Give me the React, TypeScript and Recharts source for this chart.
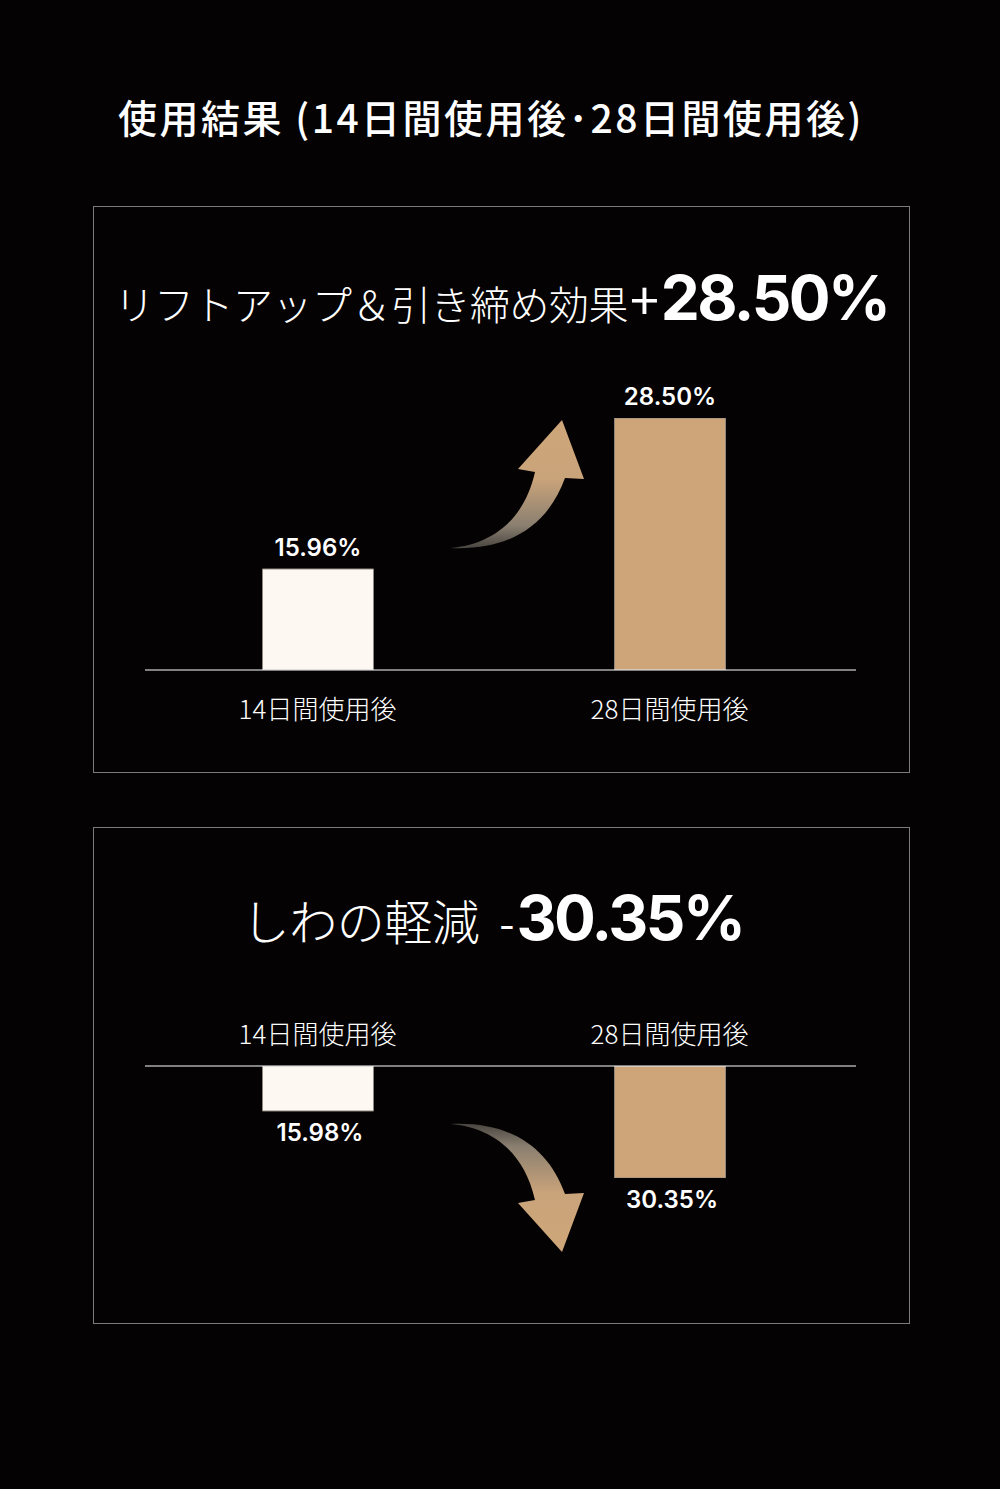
import React from 'react';
import { Bar, BarChart, Cell, LabelList, XAxis, YAxis } from 'recharts';

const categories = ['14日間使用後', '28日間使用後'];
const liftValues = [15.96, 28.5];
const wrinkleValues = [15.98, 30.35];
const liftLabels = ['15.96%', '28.50%'];
const wrinkleLabels = ['15.98%', '30.35%'];

// the bars in the original do not start at zero, so each chart keeps its own floor
const liftDomain = [7.57, 28.5];
const wrinkleDomain = [6.33, 30.35];

const BAR_COLORS = ['#fdf8f1', '#cda579'];
const BG = '#050203';
const JP = '"Noto Sans CJK JP", "Noto Sans", sans-serif';
const NUM = 'Inter, "Noto Sans", sans-serif';

const liftData = categories.map((name, i) => ({ name, value: liftValues[i], label: liftLabels[i] }));
const wrinkleData = categories.map((name, i) => ({ name, value: wrinkleValues[i], label: wrinkleLabels[i] }));

const tickStyle = { fontSize: 26, fill: '#ffffff', fontWeight: 300, fontFamily: JP };

// decorative curved arrow (up version); the down one is the same shape flipped
const ARROW_PATH =
  'M 450 548 C 480 546, 522 530, 535 472 L 518 469 L 562 420 L 584 479 L 565 478 C 548 525, 510 551, 450 548 Z';

// value label under a hanging bar (reversed axis can give a negative height)
function BelowLabel(props: any) {
  const { x, y, width, height, value } = props;
  const bottom = Math.max(y, y + height);
  return (
    <text
      x={x + width / 2 + 2}
      y={bottom + 30}
      textAnchor="middle"
      fill="#fff"
      fontSize={24}
      fontWeight={600}
      fontFamily={NUM}
    >
      {value}
    </text>
  );
}

function AboveLabel(props: any) {
  const { x, y, width, height, value } = props;
  const top = Math.min(y, y + height);
  return (
    <text
      x={x + width / 2}
      y={top - 13}
      textAnchor="middle"
      fill="#fff"
      fontSize={24}
      fontWeight={600}
      fontFamily={NUM}
    >
      {value}
    </text>
  );
}

function Box({ top, height }: { top: number; height: number }) {
  return (
    <div
      style={{
        position: 'absolute',
        left: 93,
        top,
        width: 815,
        height: height - 2,
        border: '1px solid #7b7b7b',
      }}
    />
  );
}

function Headline({
  top,
  light,
  sign,
  bold,
  lightSize,
  signSize,
  gap = 0,
  shift = 0,
}: {
  top: number;
  light: string;
  sign: string;
  bold: string;
  lightSize: number;
  signSize: number;
  gap?: number;
  shift?: number;
}) {
  return (
    <div
      style={{
        position: 'absolute',
        left: 93 - shift,
        width: 817,
        top,
        display: 'flex',
        justifyContent: 'center',
        alignItems: 'baseline',
        color: '#fff',
        whiteSpace: 'nowrap',
      }}
    >
      <span style={{ fontFamily: JP, fontWeight: 300, fontSize: lightSize, letterSpacing: -0.5, marginRight: gap }}>
        {light}
      </span>
      <span style={{ fontFamily: JP, fontWeight: 400, fontSize: signSize, margin: '0 2px' }}>{sign}</span>
      <span style={{ fontFamily: NUM, fontWeight: 700, fontSize: 62, letterSpacing: -2.5 }}>{bold}</span>
    </div>
  );
}

export default function App() {
  return (
    <div
      style={{
        position: 'absolute',
        left: 0,
        top: 0,
        width: 1000,
        height: 1489,
        background: BG,
        overflow: 'hidden',
      }}
    >
      <div
        style={{
          position: 'absolute',
          left: 118,
          top: 96,
          fontFamily: JP,
          fontWeight: 500,
          fontSize: 39,
          lineHeight: '40px',
          color: '#fff',
          whiteSpace: 'nowrap',
          letterSpacing: 2.5,
        }}
      >
        使用結果 (14日間使用後･28日間使用後)
      </div>

      <Box top={206} height={567} />
      <Box top={827} height={497} />

      <Headline top={260} light="リフトアップ＆引き締め効果" sign="+" bold="28.50%" lightSize={40} signSize={52} />
      <Headline
        top={880}
        light="しわの軽減"
        sign="-"
        bold="30.35%"
        lightSize={48}
        signSize={44}
        gap={18}
        shift={9}
      />

      <div style={{ position: 'absolute', left: 0, top: 380 }}>
        <BarChart width={1000} height={350} data={liftData} margin={{ top: 38, right: 144, left: 145, bottom: 0 }}>
          <XAxis
            dataKey="name"
            height={60}
            tickLine={false}
            axisLine={{ stroke: '#ffffff', strokeWidth: 1 }}
            tick={tickStyle}
            tickMargin={25}
            padding={{ left: -3.5, right: 10.5 }}
          />
          <YAxis hide domain={liftDomain} allowDataOverflow />
          <Bar dataKey="value" barSize={111} isAnimationActive={false} stroke="#8d8780" strokeWidth={1}>
            {liftData.map((d, i) => (
              <Cell key={d.name} fill={BAR_COLORS[i]} />
            ))}
            <LabelList dataKey="label" content={AboveLabel} />
          </Bar>
        </BarChart>
      </div>

      <div style={{ position: 'absolute', left: 0, top: 990 }}>
        <BarChart width={1000} height={238} data={wrinkleData} margin={{ top: 0, right: 144, left: 145, bottom: 50 }}>
          <XAxis
            dataKey="name"
            orientation="top"
            height={76}
            tickLine={false}
            axisLine={{ stroke: '#ffffff', strokeWidth: 1 }}
            tick={tickStyle}
            tickMargin={16}
            padding={{ left: -3.5, right: 10.5 }}
          />
          <YAxis hide reversed domain={wrinkleDomain} allowDataOverflow />
          <Bar dataKey="value" barSize={111} isAnimationActive={false} stroke="#8d8780" strokeWidth={1}>
            {wrinkleData.map((d, i) => (
              <Cell key={d.name} fill={BAR_COLORS[i]} />
            ))}
            <LabelList dataKey="label" content={BelowLabel} />
          </Bar>
        </BarChart>
      </div>

      <svg
        width={1000}
        height={1489}
        style={{ position: 'absolute', left: 0, top: 0, pointerEvents: 'none' }}
      >
        <defs>
          <linearGradient id="arrowUp" gradientUnits="userSpaceOnUse" x1="0" y1="420" x2="0" y2="552">
            <stop offset="0" stopColor="#cea679" />
            <stop offset="0.45" stopColor="#c9a37a" />
            <stop offset="0.8" stopColor="#8a7f70" />
            <stop offset="1" stopColor="#3e3b38" />
          </linearGradient>
        </defs>
        <path d={ARROW_PATH} fill="url(#arrowUp)" />
        <g transform="translate(0 1672) scale(1 -1)">
          <path d={ARROW_PATH} fill="url(#arrowUp)" />
        </g>
      </svg>
    </div>
  );
}
